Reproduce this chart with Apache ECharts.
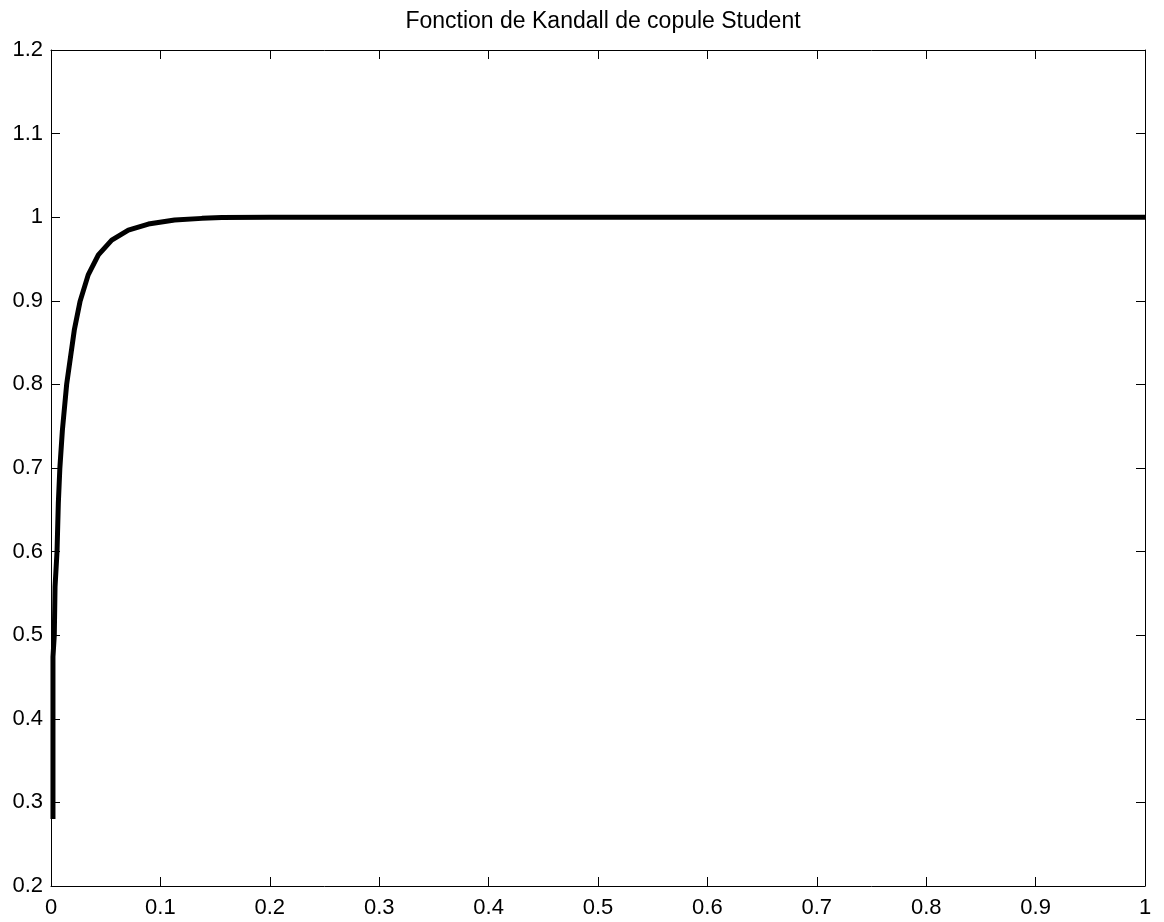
<!DOCTYPE html>
<html>
<head>
<meta charset="utf-8">
<script src="https://cdn.jsdelivr.net/npm/echarts@6/dist/echarts.min.js"></script>
<style>
  html, body { margin: 0; padding: 0; background: #fff; }
  #chart { width: 1164px; height: 922px; }
</style>
</head>
<body>
<div id="chart"></div>
<script>
// values
const tValues = [0.0018, 0.0018, 0.003, 0.0037, 0.0055, 0.0067, 0.0081, 0.0104, 0.0143,
  0.0213, 0.0265, 0.034, 0.0433, 0.0555, 0.0707, 0.089, 0.113, 0.138, 0.156, 0.2,
  0.3, 0.4, 0.5, 0.6, 0.7, 0.8, 0.9, 1.0];
const kValues = [0.28, 0.474, 0.50, 0.558, 0.60, 0.658, 0.70, 0.745, 0.80,
  0.865, 0.899, 0.931, 0.955, 0.9726, 0.9846, 0.9918, 0.9966, 0.9986, 0.9995, 1.0,
  1.0, 1.0, 1.0, 1.0, 1.0, 1.0, 1.0, 1.0];
const chartTitle = 'Fonction de Kandall de copule Student';

const font = 'Liberation Sans, Arial, sans-serif';
const points = tValues.map((t, i) => [t, kValues[i]]);

const boxAxis = (extra) => Object.assign({
  type: 'value',
  interval: 0.1,
  splitLine: { show: false },
  axisLine: { show: true, onZero: false, lineStyle: { color: '#000', width: 1 } },
  axisTick: { show: true, inside: true, length: 9, lineStyle: { color: '#000' } },
}, extra);

const myChart = echarts.init(document.getElementById('chart'));
myChart.setOption({
  animation: false,
  title: {
    text: chartTitle,
    left: 598,
    top: 5,
    textAlign: 'center',
    textStyle: { color: '#000', fontFamily: font, fontSize: 23, fontWeight: 'normal' },
  },
  grid: { left: 51, right: 19, top: 50, bottom: 36 },
  xAxis: [
    boxAxis({ min: 0, max: 1, position: 'bottom', axisLabel: { color: '#000', fontFamily: font, fontSize: 22, margin: 11 } }),
    boxAxis({ min: 0, max: 1, position: 'top', axisLabel: { show: false } }),
  ],
  yAxis: [
    boxAxis({ min: 0.2, max: 1.2, position: 'left', axisLabel: { color: '#000', fontFamily: font, fontSize: 22, margin: 8 } }),
    boxAxis({ min: 0.2, max: 1.2, position: 'right', axisLabel: { show: false } }),
  ],
  series: [
    {
      type: 'line',
      data: points,
      showSymbol: false,
      smooth: false,
      lineStyle: { color: '#000', width: 5, join: 'round' },
    },
  ],
});
</script>
</body>
</html>
